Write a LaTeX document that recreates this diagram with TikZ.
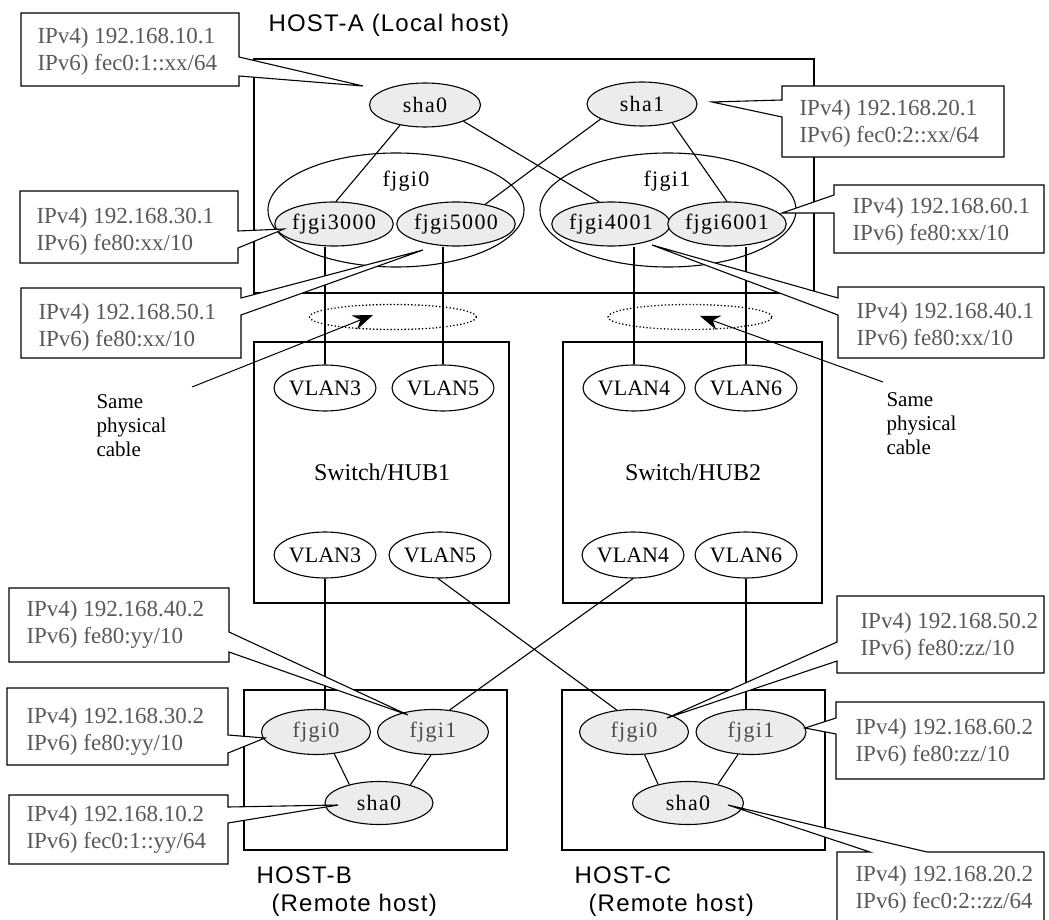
\documentclass[tikz,border=0pt]{standalone}
\usepackage{fontspec}
\setmainfont{Liberation Serif}
\newfontfamily\hostfont[LetterSpace=5]{Liberation Sans}
\newfontfamily\portfont[LetterSpace=6]{Liberation Serif}
\usetikzlibrary{arrows.meta,shapes.geometric}

\begin{document}
\begin{tikzpicture}[x=1pt,y=-1pt,line width=1.1pt,
  port/.style={ellipse,draw,fill=gray!15,inner sep=0pt,minimum height=44pt,font=\portfont\fontsize{22}{26}\selectfont},
  vlan/.style={ellipse,draw,fill=white,inner sep=0pt,minimum width=91pt,minimum height=46pt,font=\fontsize{22}{26}\selectfont},
  grp/.style={ellipse,draw,inner sep=0pt,minimum width=256pt,minimum height=114pt},
  addr/.style={anchor=west,align=left,inner sep=0pt,text=black!65,font=\fontsize{23}{27}\selectfont},
  callout/.style={draw,fill=white,line join=miter},
  hostlbl/.style={anchor=west,inner sep=0pt,font=\hostfont\fontsize{24}{28}\selectfont},
  samecab/.style={ellipse,draw,line width=1.3pt,dash pattern=on 1.3pt off 2.2pt,minimum height=25pt},
  remote/.style={text=black!70}]
\useasboundingbox (0,0) rectangle (1049,920);
% frames
\draw (254,59) rectangle (814,293);
\draw (254,342) rectangle (509,603);
\draw (563,342) rectangle (822,603);
\draw (244,690) rectangle (507,850);
\draw (562,690) rectangle (825,850);
\node[hostlbl] (ttlA) at (268,25) {HOST-A (Local host)};
\node[font=\fontsize{24}{28}\selectfont] (hub1) at (382,472) {Switch/HUB1};
\node[font=\fontsize{24}{28}\selectfont] (hub2) at (693,472) {Switch/HUB2};
% HOST-A interfaces
\node[grp] (grp0) at (396,210) {};
\node[grp] (grp1) at (668,210) {};
\node[font=\portfont\fontsize{22}{26}\selectfont] (lgrp0) at (406,181) {fjgi0};
\node[font=\portfont\fontsize{22}{26}\selectfont] (lgrp1) at (667,181) {fjgi1};
\node[port,minimum width=111pt] (shaA0) at (425,105) {sha0};
\node[port,minimum width=110pt] (shaA1) at (642,104) {sha1};
\node[port,minimum width=98pt] (fA3000) at (334,224) {fjgi3000};
\node[port,minimum width=112pt] (fA5000) at (456,224) {fjgi5000};
\node[port,minimum width=112pt] (fA4001) at (611,224) {fjgi4001};
\node[port,minimum width=111pt] (fA6001) at (727,224) {fjgi6001};
\draw (shaA0.-141) -- (fA3000.85);
\draw (shaA0.-23) -- (fA4001.118);
\draw (shaA1.-160) -- (fA5000.34);
\draw (shaA1.-32) -- (fA6001.north);
% switch ports
\node[vlan] (v3a) at (325,388) {VLAN3};
\node[vlan] (v5a) at (443,388) {VLAN5};
\node[vlan] (v4a) at (634,388) {VLAN4};
\node[vlan] (v6a) at (746,388) {VLAN6};
\node[vlan] (v3b) at (325,555) {VLAN3};
\node[vlan] (v5b) at (440,555) {VLAN5};
\node[vlan] (v4b) at (633,555) {VLAN4};
\node[vlan] (v6b) at (746,555) {VLAN6};
\draw (v3a.north) -- (v3a.north |- fA3000.south);
\draw (v5a.north) -- (v5a.north |- fA5000.south);
\draw (v4a.north) -- (v4a.north |- fA4001.south);
\draw (v6a.north) -- (v6a.north |- fA6001.south);
% same cable marks
\node[samecab,minimum width=167pt] (dL) at (393,317) {};
\node[samecab,minimum width=164pt] (dR) at (690,317) {};
\node[anchor=west,align=left,inner sep=0pt,font=\fontsize{21}{24}\selectfont] (cabL) at (96,426) {Same\\physical\\cable};
\node[anchor=west,align=left,inner sep=0pt,font=\fontsize{21}{24}\selectfont] (cabR) at (886,424) {Same\\physical\\cable};
\coordinate (sL) at (192,387);
\coordinate (hL) at (373,315);
\coordinate (sR) at (883,382);
\coordinate (hR) at (700,316);
\draw[-{Stealth[length=20pt,width=15pt]},line width=1pt] (sL) -- (hL);
\draw[-{Stealth[length=20pt,width=15pt]},line width=1pt] (sR) -- (hR);
% HOST-B and HOST-C
\node[port,remote,minimum width=109pt,minimum height=45pt] (fB0) at (316,732) {fjgi0};
\node[port,remote,minimum width=111pt,minimum height=45pt] (fB1) at (433,732) {fjgi1};
\node[port,minimum width=108pt,minimum height=43pt] (shB) at (379,803) {sha0};
\node[port,remote,minimum width=109pt,minimum height=45pt] (fC0) at (634,732) {fjgi0};
\node[port,remote,minimum width=110pt,minimum height=45pt] (fC1) at (751,732) {fjgi1};
\node[port,minimum width=111pt,minimum height=43pt] (shC) at (688,803) {sha0};
\draw (fB0.-50) -- (shB.148);
\draw (fB1.-95) -- (shB.30);
\draw (fC0.-65) -- (shC.148);
\draw (fC1.-120) -- (shC.32);
\draw (v3b.south) -- (v3b.south |- fB0.north);
\draw (v5b.-95) -- (fC0.128);
\draw (v4b.south) -- (fB1.53);
\draw (v6b.south) -- (v6b.south |- fC1.north);
\node[hostlbl] (ttlB) at (256,875) {HOST-B};
\node[hostlbl] (rmtB) at (271,905) {(Remote host)};
\node[hostlbl] (ttlC) at (574,875) {HOST-C};
\node[hostlbl] (rmtC) at (588,905) {(Remote host)};
% address callouts
\coordinate (tShaA0) at (363,86);
\filldraw[callout] (21,13) -- (239,13) -- (239,57) -- (tShaA0) -- (239,76) -- (239,86) -- (21,86) -- cycle;
\node[addr] (aShaA0) at (37,51.5) {IPv4) 192.168.10.1\\IPv6) fec0:1::xx/64};
\coordinate (tShaA1) at (712,102);
\filldraw[callout] (782,86) -- (1004,86) -- (1004,157) -- (782,157) -- (782,117) -- (tShaA1) -- (782,100) -- cycle;
\node[addr] (aShaA1) at (799,123.5) {IPv4) 192.168.20.1\\IPv6) fec0:2::xx/64};
\coordinate (tA3000) at (284,229);
\filldraw[callout] (20,191) -- (238,191) -- (238,231) -- (tA3000) -- (238,248) -- (238,263) -- (20,263) -- cycle;
\node[addr] (aA3000) at (36,231.5) {IPv4) 192.168.30.1\\IPv6) fe80:xx/10};
\coordinate (tA5000) at (423,250);
\filldraw[callout] (21,288) -- (241,288) -- (241,298) -- (tA5000) -- (241,315) -- (241,358) -- (21,358) -- cycle;
\node[addr] (aA5000) at (38,327) {IPv4) 192.168.50.1\\IPv6) fe80:xx/10};
\coordinate (tA6001) at (782,213);
\filldraw[callout] (834,185) -- (1044,185) -- (1044,253) -- (834,253) -- (834,213) -- (tA6001) -- (834,195) -- cycle;
\node[addr] (aA6001) at (852,221.5) {IPv4) 192.168.60.1\\IPv6) fe80:xx/10};
\coordinate (tA4001) at (652,245);
\filldraw[callout] (838,287) -- (1044,287) -- (1044,358) -- (838,358) -- (838,315) -- (tA4001) -- (838,298) -- cycle;
\node[addr] (aA4001) at (856,326.5) {IPv4) 192.168.40.1\\IPv6) fe80:xx/10};
\coordinate (tB1) at (408,715);
\filldraw[callout] (9,588) -- (229,588) -- (229,632) -- (tB1) -- (229,652) -- (229,662) -- (9,662) -- cycle;
\node[addr] (aB1) at (26,624.5) {IPv4) 192.168.40.2\\IPv6) fe80:yy/10};
\coordinate (tB0) at (265,738);
\filldraw[callout] (7,688) -- (228,688) -- (228,735) -- (tB0) -- (228,753) -- (228,765) -- (7,765) -- cycle;
\node[addr] (aB0) at (26,731) {IPv4) 192.168.30.2\\IPv6) fe80:yy/10};
\coordinate (tShB) at (338,805);
\filldraw[callout] (9,795) -- (228,795) -- (228,807) -- (tShB) -- (228,823) -- (228,864) -- (9,864) -- cycle;
\node[addr] (aShB) at (26,829) {IPv4) 192.168.10.2\\IPv6) fec0:1::yy/64};
\coordinate (tC0) at (667,718);
\filldraw[callout] (837,596) -- (1044,596) -- (1044,673) -- (837,673) -- (837,661) -- (tC0) -- (837,642) -- cycle;
\node[addr] (aC0) at (860,636) {IPv4) 192.168.50.2\\IPv6) fe80:zz/10};
\coordinate (tC1) at (805,728);
\filldraw[callout] (836,702) -- (1044,702) -- (1044,779) -- (836,779) -- (836,734) -- (tC1) -- (836,718) -- cycle;
\node[addr] (aC1) at (855,742) {IPv4) 192.168.60.2\\IPv6) fe80:zz/10};
\coordinate (tShC) at (728,805);
\filldraw[callout] (837,930) -- (837,852) -- (870,852) -- (tShC) -- (927,852) -- (1044,852) -- (1044,930) -- cycle;
\node[addr] (aShC) at (855,889) {IPv4) 192.168.20.2\\IPv6) fec0:2::zz/64};
\end{tikzpicture}
\end{document}
